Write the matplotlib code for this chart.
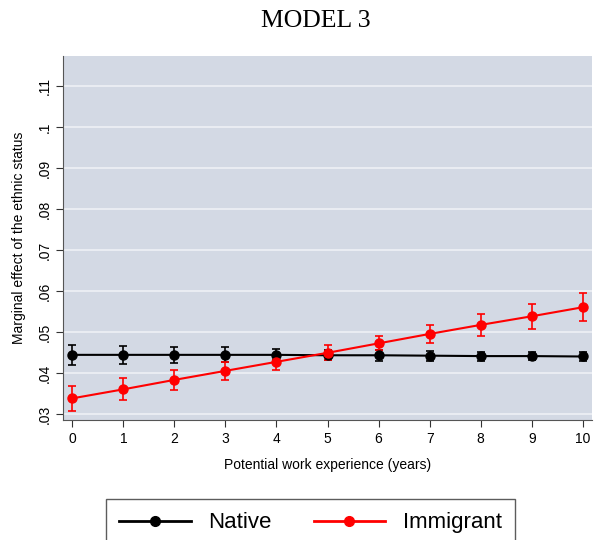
import matplotlib
matplotlib.use("Agg")
import matplotlib.pyplot as plt
from matplotlib.lines import Line2D
import numpy as np

plt.rcParams['font.family'] = ['Liberation Sans', 'DejaVu Sans']

# marginal effects by years of potential experience
years = [0, 1, 2, 3, 4, 5, 6, 7, 8, 9, 10]
native = [0.0445, 0.0445, 0.0445, 0.0445, 0.0445, 0.0444, 0.0444, 0.0443, 0.0442, 0.0442, 0.0441]
native_lo = [0.0420, 0.0423, 0.0425, 0.0428, 0.0432, 0.0432, 0.0431, 0.0431, 0.0431, 0.0432, 0.0431]
native_hi = [0.0470, 0.0467, 0.0465, 0.0463, 0.0459, 0.0456, 0.0457, 0.0455, 0.0453, 0.0452, 0.0451]
immig = [0.0339, 0.0361, 0.0384, 0.0406, 0.0428, 0.0450, 0.0473, 0.0496, 0.0518, 0.0539, 0.0561]
immig_lo = [0.0308, 0.0334, 0.0359, 0.0384, 0.0408, 0.0433, 0.0457, 0.0473, 0.0491, 0.0509, 0.0527]
immig_hi = [0.0370, 0.0388, 0.0407, 0.0427, 0.0447, 0.0469, 0.0492, 0.0518, 0.0544, 0.0569, 0.0596]
yticks = [0.03, 0.04, 0.05, 0.06, 0.07, 0.08, 0.09, 0.10, 0.11]
ytick_labels = [".03", ".04", ".05", ".06", ".07", ".08", ".09", ".1", ".11"]

fig = plt.figure(figsize=(5.95, 5.4), dpi=100)
ax = fig.add_axes([0.106, 0.222, 0.889, 0.675])
ax.set_facecolor('#d3d9e4')

handles = []
for y, lo, hi, col, lab in [(native, native_lo, native_hi, 'black', 'Native'),
                            (immig, immig_lo, immig_hi, 'red', 'Immigrant')]:
    y = np.array(y)
    err = [y - np.array(lo), np.array(hi) - y]
    ax.errorbar(years, y, yerr=err, color=col, marker='o', markersize=6.5,
                lw=1.5, elinewidth=1.2, capsize=3, capthick=1.2, zorder=3)
    handles.append(Line2D([], [], color=col, marker='o', markersize=7, lw=2, label=lab))

ax.set_xlim(-0.18, 10.18)
ax.set_ylim(0.0286, 0.1174)
ax.set_xticks(years)
ax.set_yticks(yticks)
ax.set_yticklabels(ytick_labels, rotation=90, va='center')
ax.yaxis.grid(True, color='#eef0f5', lw=1.2)
ax.set_axisbelow(True)
ax.tick_params(direction='out', length=5, color='#333333', labelsize=10)
for s in ['top', 'right']:
    ax.spines[s].set_visible(False)
for s in ['left', 'bottom']:
    ax.spines[s].set_color('#555555')

ax.set_xlabel("Potential work experience (years)", fontsize=10, labelpad=9)
ax.set_ylabel("Marginal effect of the ethnic status", fontsize=10, labelpad=8)
fig.text(0.53, 0.962, "MODEL 3", family='Liberation Serif', fontsize=18.5,
         ha='center', va='center')

leg = fig.legend(handles=handles, loc='upper center', bbox_to_anchor=(0.522, 0.076), ncol=2,
                 fontsize=16, frameon=True, fancybox=False, edgecolor='#333333',
                 handlelength=3.2, columnspacing=1.9, borderpad=0.6, borderaxespad=0)
leg.get_frame().set_linewidth(1)

fig.savefig("out.png", dpi=100)
